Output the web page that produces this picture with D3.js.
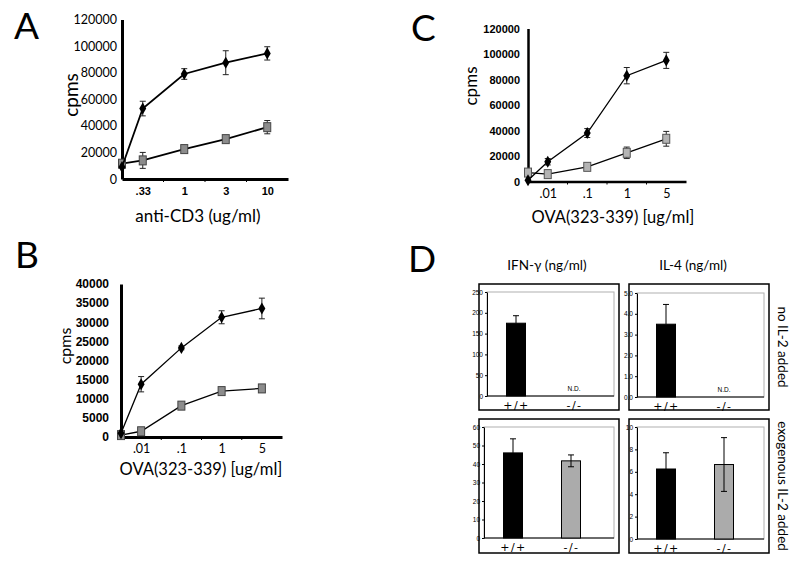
<!DOCTYPE html>
<html><head><meta charset="utf-8">
<script src="https://cdn.jsdelivr.net/npm/d3@7"></script>
<style>body{margin:0;background:#fff} svg{display:block}</style>
</head><body>
<script>
// ---------- Panel A : anti-CD3 ----------
const dosesA = ["0", ".33", "1", "3", "10"];
const wtA = [9000, 53000, 79000, 87500, 94500];
const wtErrA = [0, 5500, 4000, 9000, 5000];
const koA = [11500, 14000, 22500, 30000, 39000];
const koErrA = [0, 6000, 2500, 2500, 5000];
const ticksA = [0, 20000, 40000, 60000, 80000, 100000, 120000];

// ---------- Panel B : OVA ----------
const dosesB = ["0", ".01", ".1", "1", "5"];
const wtB = [1000, 13800, 23300, 31300, 33600];
const wtErrB = [0, 2000, 500, 1700, 2700];
const koB = [500, 1500, 8200, 12000, 12700];
const koErrB = [0, 0, 0, 0, 1000];
const ticksB = [0, 5000, 10000, 15000, 20000, 25000, 30000, 35000, 40000];

// ---------- Panel C : OVA ----------
const dosesC = ["0", ".01", ".1", "1", "5"];
const wtC = [1000, 15500, 38000, 83000, 95000];
const wtErrC = [0, 2500, 3500, 6400, 6300];
const koC = [7000, 5800, 11500, 22500, 33500];
const koErrC = [3000, 0, 2000, 4500, 5800];
const ticksC = [0, 20000, 40000, 60000, 80000, 100000, 120000];

// ---------- Panel D : cytokines ----------
const genotypes = ["+/+", "-/-"];
const ifnNoIL2 = [175, null];
const ifnNoIL2Err = [18, null];
const il4NoIL2 = [3.5, null];
const il4NoIL2Err = [0.95, null];
const ifnIL2 = [46, 41.7];
const ifnIL2Err = [7.6, 3.2];
const il4IL2 = [6.25, 6.65];
const il4IL2Err = [1.45, 2.4];
const ticksIfnNo = [0, 50, 100, 150, 200, 250];
const ticksIl4No = [0, 1, 2, 3, 4, 5];
const ticksIfnIL2 = [0, 10, 20, 30, 40, 50, 60];
const ticksIl4IL2 = [0, 2, 4, 6, 8, 10];

const W = 800, H = 561;
const svg = d3.select("body").append("svg").attr("width", W).attr("height", H)
  .style("font-family", "Lato, 'DejaVu Sans', sans-serif");

function letter(t, x, y) {
  svg.append("text").attr("x", x).attr("y", y).attr("font-size", 37)
    .attr("font-family", "Lato, sans-serif").text(t);
}
letter("A", 14, 39);
letter("B", 15, 268);
letter("C", 411, 41);
letter("D", 408, 272);

function linePanel(c) {
  const g = svg.append("g");
  const n = c.doses.length;
  const x = d3.scaleLinear().domain([0.5, n - 0.5]).range([c.left, c.right]);
  const y = d3.scaleLinear().domain([0, c.yMax]).range([c.bottom, c.top]);
  const px = i => x(Math.max(i, 0.5));

  // y axis
  const ya = g.append("g").attr("transform", `translate(${c.left},0)`)
    .call(d3.axisLeft(y).tickValues(c.ticks).tickSize(0).tickPadding(c.yPad).tickFormat(d3.format("d")));
  ya.select(".domain").attr("stroke", "#000").attr("stroke-width", c.axisW);
  ya.selectAll("text").attr("font-size", c.yFont).attr("font-weight", c.yBold ? "bold" : "normal")
    .attr("font-family", c.yFamily).attr("fill", "#000");

  // x axis
  const xa = g.append("g").attr("transform", `translate(0,${c.bottom})`)
    .call(d3.axisBottom(x).tickValues(d3.range(1, n)).tickFormat(i => c.doses[i]).tickSize(0).tickPadding(c.xPad));
  xa.select(".domain").attr("stroke", "#000").attr("stroke-width", c.axisW);
  xa.selectAll("text").attr("font-size", c.xFont).attr("font-weight", c.xBold ? "bold" : "normal")
    .attr("font-family", c.xFamily).attr("fill", "#000");
  // minor ticks between categories
  g.append("g").selectAll("line").data(d3.range(1.5, n - 0.5)).join("line")
    .attr("x1", d => x(d)).attr("x2", d => x(d))
    .attr("y1", c.bottom).attr("y2", c.bottom + 3).attr("stroke", "#000").attr("stroke-width", 1);

  // titles
  g.append("text").attr("transform", `translate(${c.ytX},${c.ytY}) rotate(-90)`)
    .attr("text-anchor", "middle").attr("dominant-baseline", "central")
    .attr("font-size", c.ytFont).text("cpms");
  g.append("text").attr("x", c.xtX).attr("y", c.xtY).attr("text-anchor", "middle")
    .attr("font-size", c.xtFont).text(c.xTitle);

  const line = d3.line().x((d, i) => px(i)).y(d => y(d));
  function series(vals, errs, kind) {
    g.append("path").attr("d", line(vals)).attr("fill", "none").attr("stroke", "#000").attr("stroke-width", c.lineW);
    const eb = g.append("g");
    vals.forEach((v, i) => {
      const e = errs[i];
      if (!e) return;
      eb.append("line").attr("x1", px(i)).attr("x2", px(i)).attr("y1", y(v - e)).attr("y2", y(v + e))
        .attr("stroke", "#222").attr("stroke-width", 1);
      [v - e, v + e].forEach(yy => eb.append("line").attr("x1", px(i) - 3).attr("x2", px(i) + 3)
        .attr("y1", y(yy)).attr("y2", y(yy)).attr("stroke", "#222").attr("stroke-width", 1));
    });
    vals.forEach((v, i) => {
      if (kind === "diamond") {
        g.append("path").attr("d", d3.symbol(d3.symbolDiamond, 42)())
          .attr("transform", `translate(${px(i)},${y(v)})`).attr("fill", "#000");
      } else {
        g.append("rect").attr("x", px(i) - 3.5).attr("y", y(v) - 4.5).attr("width", 7).attr("height", 9)
          .attr("fill", c.sqFill).attr("stroke", c.sqStroke).attr("stroke-width", 1);
      }
    });
  }
  series(c.ko, c.koErr, "square");
  series(c.wt, c.wtErr, "diamond");
}

linePanel({doses: dosesA, wt: wtA, wtErr: wtErrA, ko: koA, koErr: koErrA, ticks: ticksA,
  yMax: 120000, left: 122, right: 288, top: 19.5, bottom: 179, axisW: 3, lineW: 1.8,
  yPad: 5, yFont: 12.5, yBold: false, yFamily: "Lato, sans-serif",
  xPad: 8, xFont: 11, xBold: true, xFamily: "'Liberation Sans', Arial, sans-serif",
  ytX: 70, ytY: 95, ytFont: 19, xtX: 198, xtY: 222, xtFont: 17, xTitle: "anti-CD3 (ug/ml)",
  sqFill: "#8c8c8c", sqStroke: "#444"});

linePanel({doses: dosesB, wt: wtB, wtErr: wtErrB, ko: koB, koErr: koErrB, ticks: ticksB,
  yMax: 40000, left: 121, right: 282, top: 284, bottom: 437, axisW: 3, lineW: 1.3,
  yPad: 12, yFont: 12, yBold: true, yFamily: "'Liberation Sans', Arial, sans-serif",
  xPad: 7, xFont: 12.5, xBold: false, xFamily: "Lato, sans-serif",
  ytX: 64, ytY: 346, ytFont: 16, xtX: 201, xtY: 475, xtFont: 16.5, xTitle: "OVA(323-339) [ug/ml]",
  sqFill: "#8c8c8c", sqStroke: "#444"});

linePanel({doses: dosesC, wt: wtC, wtErr: wtErrC, ko: koC, koErr: koErrC, ticks: ticksC,
  yMax: 120000, left: 528, right: 686, top: 28.5, bottom: 181.5, axisW: 2.5, lineW: 1.3,
  yPad: 8, yFont: 11, yBold: true, yFamily: "'Liberation Sans', Arial, sans-serif",
  xPad: 8, xFont: 12.5, xBold: false, xFamily: "Lato, sans-serif",
  ytX: 470, ytY: 86, ytFont: 17, xtX: 613, xtY: 223, xtFont: 16.5, xTitle: "OVA(323-339) [ug/ml]",
  sqFill: "#b4b4b4", sqStroke: "#555"});

// ---------- Panel D ----------
function barPanel(c) {
  const g = svg.append("g");
  g.append("rect").attr("x", c.fx0).attr("y", c.fy0).attr("width", c.fx1 - c.fx0).attr("height", c.fy1 - c.fy0)
    .attr("fill", "none").attr("stroke", "#000").attr("stroke-width", 1.5);
  g.append("rect").attr("x", c.left).attr("y", c.top).attr("width", c.right - c.left).attr("height", c.bottom - c.top)
    .attr("fill", "none").attr("stroke", "#b0b0b0").attr("stroke-width", 1);
  const y = d3.scaleLinear().domain([0, c.yMax]).range([c.bottom, c.top]);
  const x = d3.scalePoint().domain(genotypes).range([c.left, c.left + 116]).padding(0.5);
  const ya = g.append("g").attr("transform", `translate(${c.left},0)`)
    .call(d3.axisLeft(y).tickValues(c.ticks).tickSize(2).tickSizeOuter(0).tickPadding(2));
  ya.select(".domain").attr("stroke", "#000");
  ya.selectAll("text").attr("font-size", 6.5).attr("font-family", "'Liberation Sans', Arial, sans-serif");
  const xa = g.append("g").attr("transform", `translate(0,${c.bottom})`)
    .call(d3.axisBottom(x).tickSize(0).tickPadding(5));
  xa.select(".domain").attr("stroke", "#000").attr("d", `M${c.left},0H${c.right}`);
  xa.selectAll("text").attr("font-size", 11).attr("font-family", "'DejaVu Sans', sans-serif")
    .attr("letter-spacing", 1.5);
  const bw = 19;
  genotypes.forEach((gt, i) => {
    const v = c.vals[i];
    if (v == null) {
      g.append("text").attr("x", x(gt)).attr("y", c.bottom - 5).attr("text-anchor", "middle")
        .attr("font-size", 6.5).attr("font-family", "'Liberation Sans', Arial, sans-serif").text("N.D.");
      return;
    }
    g.append("rect").attr("x", x(gt) - bw / 2).attr("y", y(v)).attr("width", bw).attr("height", y(0) - y(v))
      .attr("fill", i === 0 ? "#000" : "#ababab").attr("stroke", "#000").attr("stroke-width", 1);
    const e = c.errs[i];
    const lo = i === 0 ? v : v - e;
    g.append("line").attr("x1", x(gt)).attr("x2", x(gt)).attr("y1", y(lo)).attr("y2", y(v + e))
      .attr("stroke", "#000").attr("stroke-width", 1);
    g.append("line").attr("x1", x(gt) - 3).attr("x2", x(gt) + 3).attr("y1", y(v + e)).attr("y2", y(v + e))
      .attr("stroke", "#000").attr("stroke-width", 1);
    if (i !== 0) g.append("line").attr("x1", x(gt) - 3).attr("x2", x(gt) + 3).attr("y1", y(v - e)).attr("y2", y(v - e))
      .attr("stroke", "#000").attr("stroke-width", 1);
  });
}

barPanel({fx0: 479, fy0: 284, fx1: 619, fy1: 410, left: 487, top: 292, right: 614, bottom: 396,
  yMax: 250, ticks: ticksIfnNo, vals: ifnNoIL2, errs: ifnNoIL2Err});
barPanel({fx0: 629, fy0: 284, fx1: 769, fy1: 410, left: 637, top: 293, right: 764, bottom: 397,
  yMax: 5, ticks: ticksIl4No, vals: il4NoIL2, errs: il4NoIL2Err});
barPanel({fx0: 479, fy0: 419, fx1: 619, fy1: 553, left: 484, top: 427, right: 614, bottom: 538,
  yMax: 60, ticks: ticksIfnIL2, vals: ifnIL2, errs: ifnIL2Err});
barPanel({fx0: 629, fy0: 419, fx1: 769, fy1: 553, left: 637, top: 427, right: 764, bottom: 539,
  yMax: 10, ticks: ticksIl4IL2, vals: il4IL2, errs: il4IL2Err});

svg.append("text").attr("x", 547).attr("y", 270).attr("text-anchor", "middle").attr("font-size", 13.5).text("IFN-γ (ng/ml)");
svg.append("text").attr("x", 693).attr("y", 270).attr("text-anchor", "middle").attr("font-size", 13.5).text("IL-4 (ng/ml)");
svg.append("text").attr("transform", "translate(783,347) rotate(90)").attr("text-anchor", "middle")
  .attr("dominant-baseline", "central").attr("font-size", 13.5).text("no IL-2 added");
svg.append("text").attr("transform", "translate(783,486) rotate(90)").attr("text-anchor", "middle")
  .attr("dominant-baseline", "central").attr("font-size", 13.5).text("exogenous IL-2 added");
</script>
</body></html>
